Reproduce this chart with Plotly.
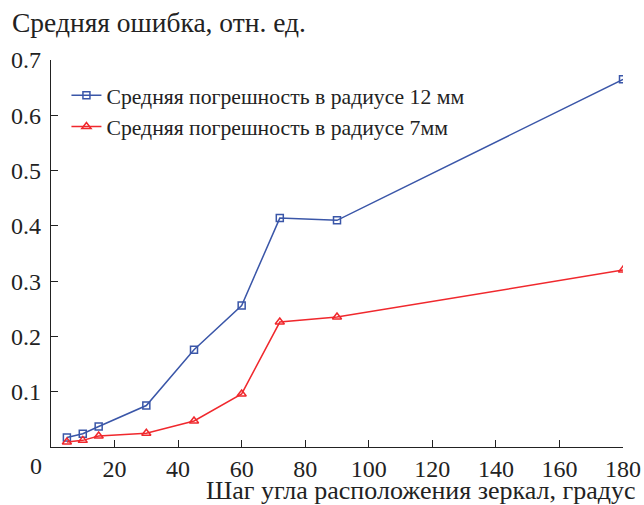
import plotly.graph_objects as go

step_deg = [5, 10, 15, 30, 45, 60, 72, 90, 180]
err_12mm = [0.017, 0.024, 0.037, 0.075, 0.176, 0.256, 0.414, 0.410, 0.665]
err_7mm = [0.009, 0.012, 0.020, 0.025, 0.047, 0.096, 0.226, 0.235, 0.320]
name_12 = "Средняя погрешность в радиусе 12 мм"
name_7 = "Средняя погрешность в радиусе 7мм"
x_ticks = [20, 40, 60, 80, 100, 120, 140, 160, 180]
y_ticks = [0.1, 0.2, 0.3, 0.4, 0.5, 0.6, 0.7]

FONT = "Liberation Serif, Times New Roman, serif"
TXT = "#222222"
blue = "#3a56a8"
red = "#f0282d"

fig = go.Figure()
fig.add_trace(go.Scatter(
    x=step_deg, y=err_12mm, name=name_12, mode="lines+markers",
    line=dict(color=blue, width=1.5),
    marker=dict(symbol="square-open", size=7, color=blue, line=dict(width=1.5)),
))
fig.add_trace(go.Scatter(
    x=step_deg, y=err_7mm, name=name_7, mode="lines+markers",
    line=dict(color=red, width=1.5),
    marker=dict(symbol="triangle-up-open", size=8, color=red, line=dict(width=1.5)),
))

tick_font = dict(family=FONT, size=24, color=TXT)
fig.update_xaxes(range=[0, 180], tickmode="array", tickvals=x_ticks,
                 ticktext=[str(v) for v in x_ticks], tickfont=tick_font, ticklabelstandoff=0,
                 showgrid=False, zeroline=False, showline=True, linecolor=TXT, linewidth=1.2,
                 ticks="inside", ticklen=7, tickcolor=TXT, tickwidth=1.2, automargin=False)
fig.update_yaxes(range=[0, 0.7], tickmode="array", tickvals=y_ticks,
                 ticktext=[f"{v:.1f}" for v in y_ticks], tickfont=tick_font, ticklabelstandoff=4,
                 showgrid=False, zeroline=False, showline=True, linecolor=TXT, linewidth=1.2,
                 ticks="inside", ticklen=7, tickcolor=TXT, tickwidth=1.2, automargin=False)

fig.add_annotation(text="0", xref="paper", yref="paper", x=-0.026, y=-0.05,
                   xanchor="center", yanchor="middle", showarrow=False,
                   font=dict(family=FONT, size=24, color=TXT))
fig.add_annotation(text="Шаг угла расположения зеркал, градус", xref="paper", yref="paper",
                   x=1.0245, y=-0.112, xanchor="right", yanchor="middle", showarrow=False,
                   font=dict(family=FONT, size=26, color=TXT))
fig.add_annotation(text="Средняя ошибка, отн. ед.", xref="paper", yref="paper",
                   x=-0.0717, y=1.0957, xanchor="left", yanchor="middle", showarrow=False,
                   font=dict(family=FONT, size=27.5, color=TXT))

fig.update_layout(
    width=644, height=505,
    font=dict(family=FONT, size=24, color=TXT),
    margin=dict(l=51, r=21, t=60, b=58),
    plot_bgcolor="white", paper_bgcolor="white",
    showlegend=True,
    legend=dict(x=0.027, y=0.962, xanchor="left", yanchor="top",
                font=dict(family=FONT, size=21.7, color=TXT),
                itemwidth=30, tracegroupgap=0, bgcolor="rgba(0,0,0,0)"),
)

fig.write_html("out.html", config={"displayModeBar": False},
               post_script="document.body.style.margin='0';document.body.style.overflow='hidden';")
